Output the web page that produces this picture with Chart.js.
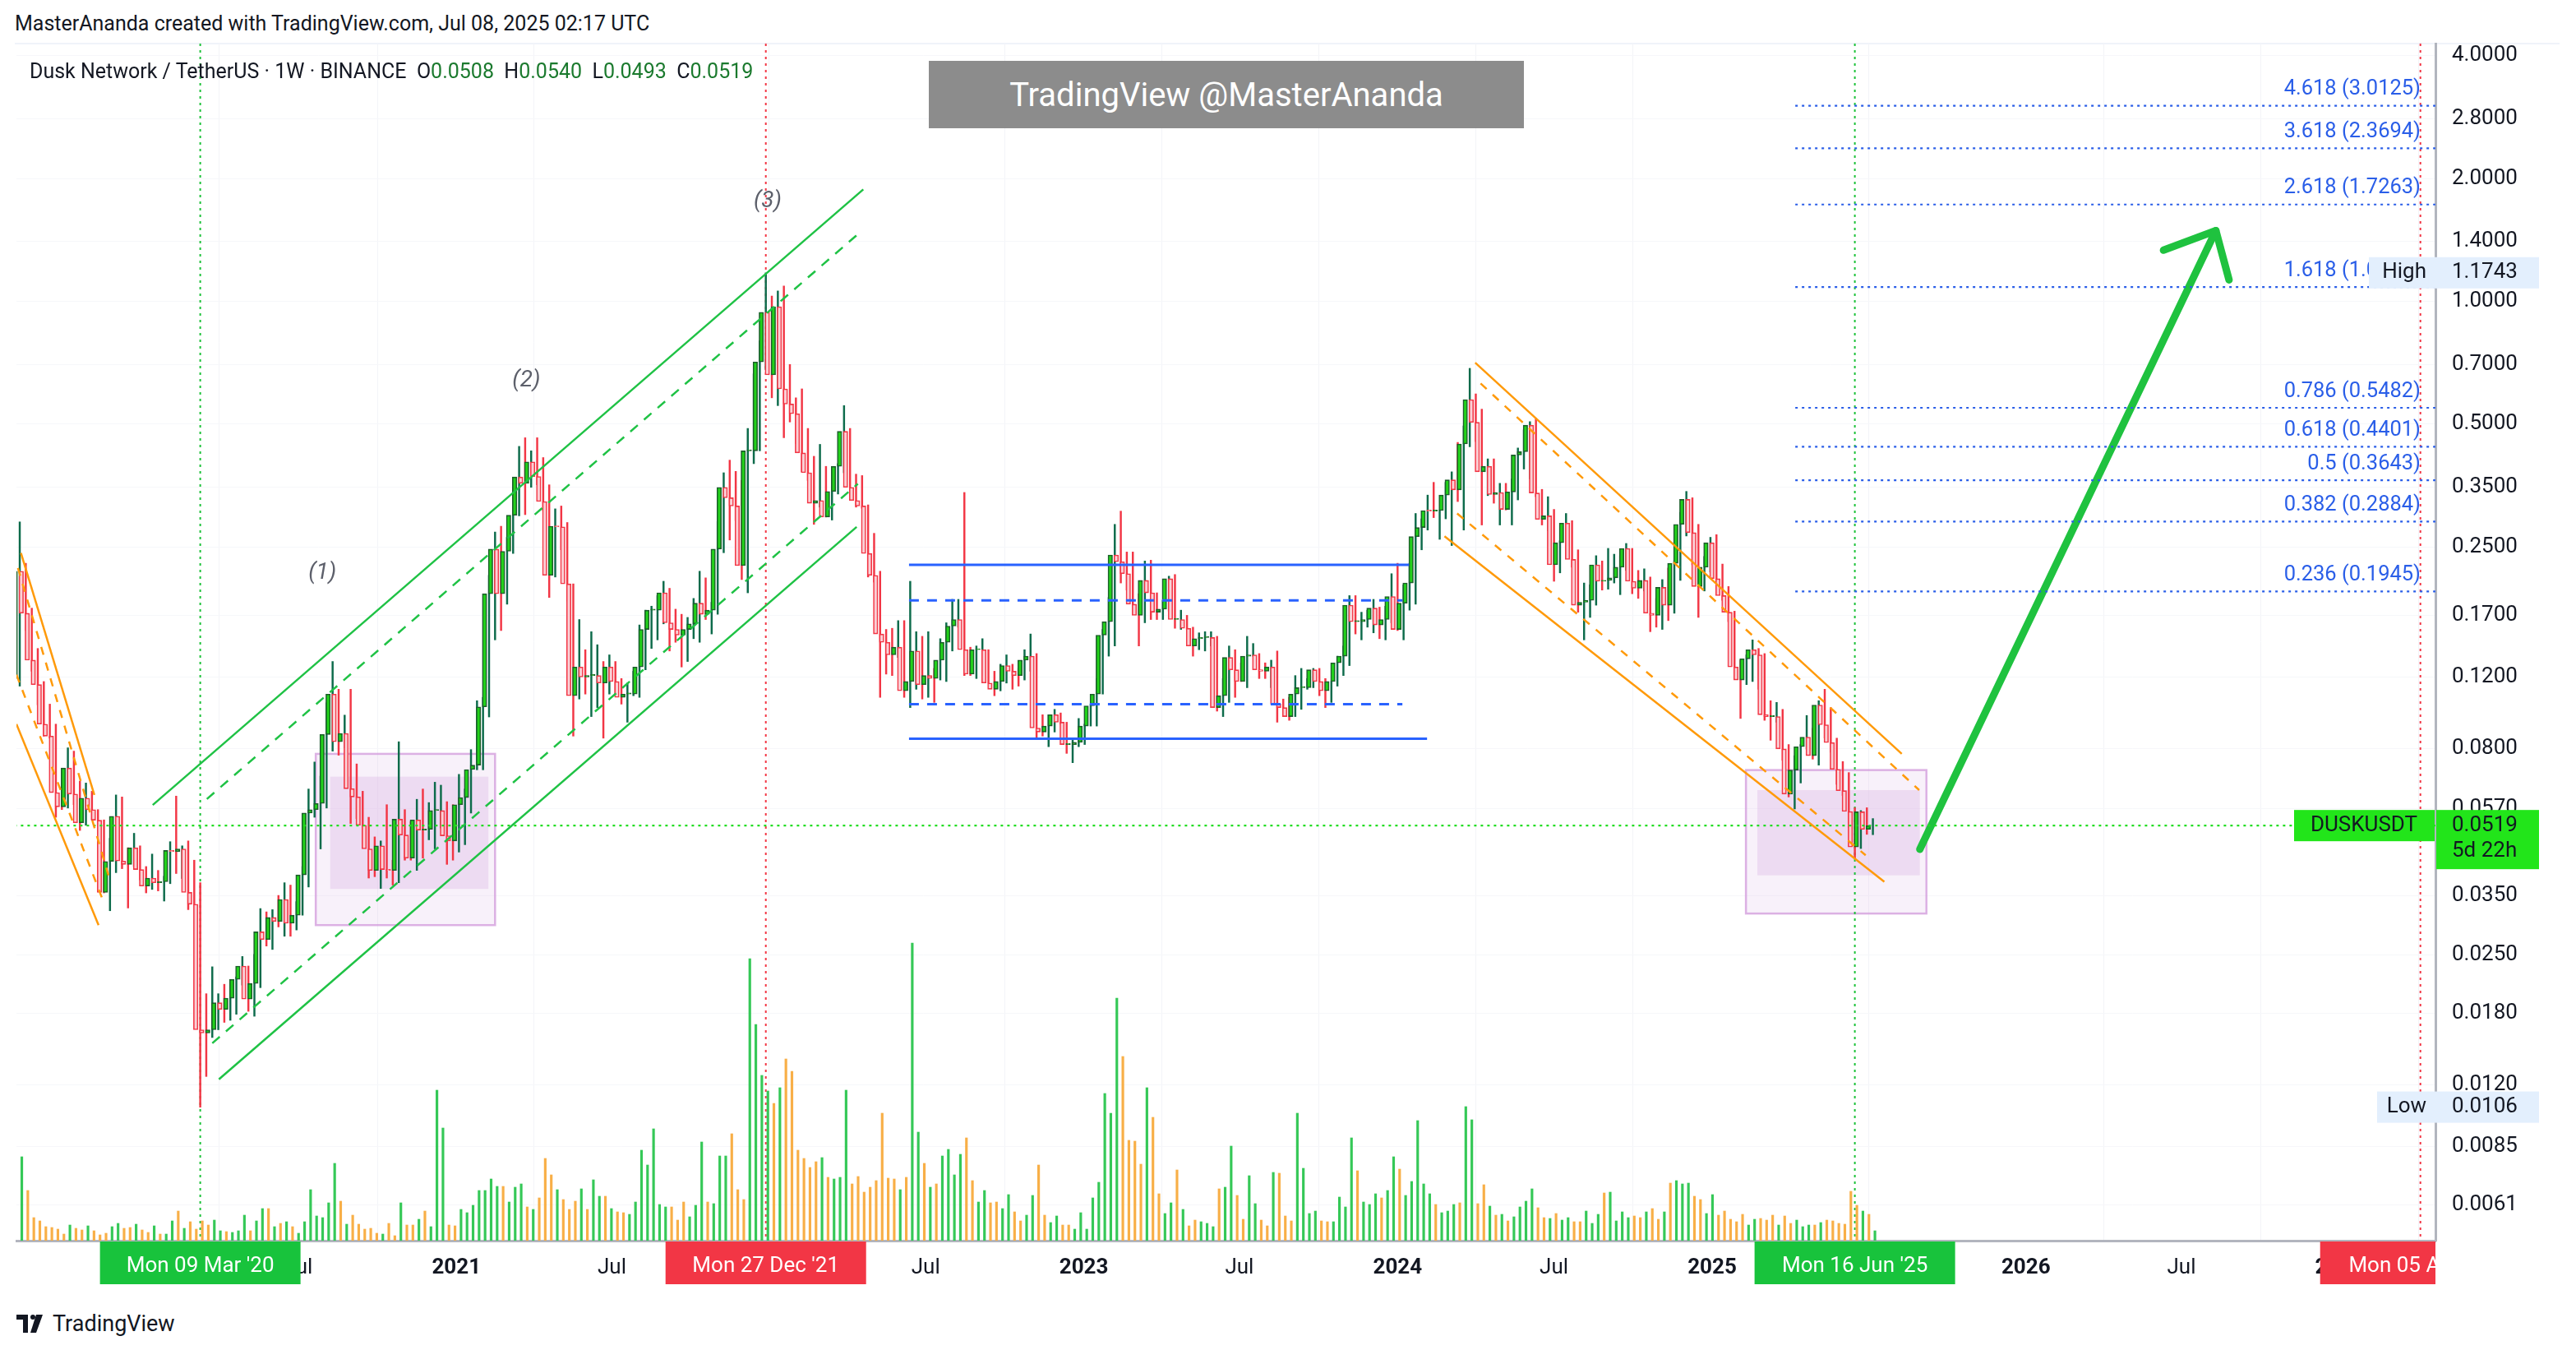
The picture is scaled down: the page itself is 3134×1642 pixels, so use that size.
<!DOCTYPE html>
<html><head><meta charset="utf-8">
<script src="https://cdn.jsdelivr.net/npm/chart.js@4.4.1/dist/chart.umd.min.js"></script>
<style>
html,body{margin:0;padding:0;background:#fff;width:3134px;height:1642px;overflow:hidden;font-family:Roboto,"Liberation Sans",sans-serif;}
#wrap{position:absolute;left:0;top:0;width:3114px;height:1562px;}
#hdr{position:absolute;left:18px;top:14px;font-size:25px;color:#131722;}
#sym{position:absolute;left:36px;top:72px;font-size:25px;color:#131722;z-index:3;}
#sym b{font-weight:normal;color:#1b7a2e;}
#wm{position:absolute;left:1130px;top:74px;width:724px;height:82px;background:#8c8c8c;color:#fff;font-size:40px;display:flex;align-items:center;justify-content:center;z-index:3;}
#foot{position:absolute;left:20px;top:1594px;font-size:27px;color:#131722;display:flex;align-items:center;gap:8px;}
#topline{position:absolute;left:18px;top:52px;width:3096px;height:2px;background:#f0f3fa;}
</style></head><body>
<div id="hdr">MasterAnanda created with TradingView.com, Jul 08, 2025 02:17 UTC</div>
<div id="topline"></div>
<div id="sym">Dusk Network / TetherUS · 1W · BINANCE &nbsp;O<b>0.0508</b> &nbsp;H<b>0.0540</b> &nbsp;L<b>0.0493</b> &nbsp;C<b>0.0519</b></div>
<div id="wm">TradingView @MasterAnanda</div>
<div id="foot"><svg width="36" height="22" viewBox="0 0 36 22"><rect x="0" y="0" width="14" height="6" fill="#131722"/><rect x="8" y="0" width="6" height="22" fill="#131722"/><circle cx="20" cy="3" r="3" fill="#131722"/><polygon points="24,0 32,0 24,22 17,22" fill="#131722"/></svg><span>TradingView</span></div>
<div id="wrap"><canvas id="c"></canvas></div>
<script>
const startDate = '2019-08-12';
const closes = [.218,.172,.132,.115,.092,.086,.0625,.0577,.0718,.062,.0527,.0606,.0568,.0535,.0356,.0424,.0547,.0425,.0417,.0458,.0405,.0369,.0386,.0376,.0378,.0451,.0448,.0455,.0356,.0333,
.0164,.0161,.0164,.0191,.0184,.0196,.0218,.0235,.0195,.0213,.0285,.0273,.0309,.0302,.0342,.0299,.0313,.0393,.0557,.0568,.0588,.0868,.109,.0833,.0873,.0639,.061,.052,.0455,.0403,
.0463,.0405,.0403,.0538,.0492,.0432,.0536,.0506,.0508,.0565,.0565,.049,.0476,.0584,.0608,.0712,.073,.1014,.192,.247,.192,.244,.299,.371,.358,.404,.372,.323,.213,.281,
.28,.203,.108,.127,.12,.121,.121,.116,.127,.117,.107,.109,.109,.127,.157,.175,.175,.193,.163,.157,.152,.157,.162,.182,.171,.175,.247,.35,.33,.315,
.225,.43,.43,.71,.94,.66,.97,.61,.56,.53,.425,.38,.32,.325,.296,.342,.394,.48,.35,.325,.315,.241,.213,.153,.146,.136,.142,.111,.117,.139,
.115,.121,.119,.132,.146,.16,.166,.14,.122,.14,.14,.116,.112,.117,.128,.124,.121,.132,.135,.09,.088,.091,.097,.093,.082,.082,.083,.091,.102,.109,
.152,.164,.239,.23,.215,.181,.17,.207,.193,.173,.176,.209,.166,.166,.158,.143,.149,.15,.15,.101,.108,.134,.125,.117,.135,.136,.125,.124,.127,.103,
.101,.096,.109,.113,.113,.125,.117,.111,.117,.13,.135,.18,.164,.164,.166,.177,.161,.166,.189,.157,.182,.204,.265,.279,.307,.306,.307,.335,.365,.345,
.447,.574,.505,.382,.394,.336,.34,.309,.341,.42,.428,.497,.339,.292,.298,.226,.256,.286,.233,.18,.183,.185,.226,.206,.207,.21,.223,.248,.206,.198,
.207,.172,.17,.199,.18,.228,.284,.327,.271,.20,.223,.256,.209,.19,.173,.127,.118,.133,.14,.136,.097,.096,.096,.080,.062,.071,.081,.0855,.077,.1025,
.0917,.0829,.0713,.0632,.0562,.046,.0561,.0508,.0519];
const firstOpen = 0.119;
const highs = [.288,.228,.177,.141,.117,.103,.092,.066,.0805,.079,.0667,.066,.063,.0568,.0536,.0483,.0617,.061,.0458,.0497,.0463,.0412,.0442,.0403,.039,.0474,.0613,.0463,.0476,.0427,
.0376,.0201,.0234,.0201,.0212,.0209,.0221,.0248,.0235,.0251,.0325,.0319,.0323,.035,.0376,.0371,.0338,.0412,.0638,.0743,.0686,.1038,.131,.112,.0968,.112,.0735,.063,.0544,.0487,
.0476,.0584,.0427,.0833,.0568,.0531,.0602,.0638,.0591,.0663,.0652,.0594,.0584,.0693,.0638,.0797,.105,.107,.213,.272,.281,.264,.347,.441,.463,.43,.463,.414,.355,.31,
.315,.287,.203,.166,.14,.155,.144,.131,.136,.131,.119,.116,.124,.161,.175,.179,.19,.206,.198,.176,.171,.168,.187,.218,.21,.183,.289,.38,.408,.383,
.364,.488,.664,.80,1.174,1.03,1.06,1.09,.70,.58,.61,.488,.417,.446,.394,.371,.40,.555,.488,.377,.374,.317,.27,.218,.157,.158,.165,.165,.206,.155,
.151,.155,.126,.149,.163,.186,.186,.34,.142,.143,.149,.139,.124,.129,.136,.129,.126,.14,.153,.137,.097,.097,.1,.098,.093,.084,.095,.092,.103,.119,
.157,.188,.284,.306,.243,.243,.192,.231,.232,.193,.185,.212,.214,.175,.17,.159,.154,.155,.155,.151,.119,.143,.14,.13,.151,.145,.137,.13,.132,.139,
.106,.107,.121,.126,.119,.126,.126,.119,.117,.135,.143,.19,.19,.173,.175,.186,.178,.179,.215,.228,.202,.228,.302,.293,.335,.36,.308,.36,.382,.451,
.495,.685,.593,.544,.411,.411,.358,.358,.367,.437,.484,.507,.517,.346,.332,.309,.259,.302,.29,.246,.204,.202,.238,.231,.248,.24,.238,.255,.248,.219,
.221,.211,.187,.208,.222,.231,.304,.342,.33,.284,.237,.264,.268,.227,.2,.174,.132,.136,.148,.141,.137,.105,.104,.1,.082,.077,.082,.0966,.0899,.105,
.112,.101,.085,.0745,.07,.0574,.0565,.0574,.054];
const lows = [.114,.156,.124,.1026,.086,.085,.0544,.0568,.0573,.0584,.0505,.052,.0536,.052,.0355,.0321,.0398,.0407,.0326,.0412,.0382,.0355,.0362,.0359,.0339,.0374,.0396,.0385,.0323,.0332,
.0106,.0126,.0157,.0165,.0171,.0173,.0179,.0211,.0182,.0177,.0208,.0263,.0258,.0293,.0278,.0278,.0288,.0313,.0367,.0544,.0455,.0573,.079,.0772,.0805,.0525,.054,.0497,.0386,.0389,
.0364,.0386,.0371,.0376,.0427,.0427,.0403,.0432,.0479,.0455,.0512,.0417,.0427,.0447,.0466,.0557,.0711,.0711,.0958,.148,.156,.181,.241,.298,.30,.35,.355,.307,.188,.211,
.246,.184,.086,.106,.109,.096,.101,.085,.109,.108,.103,.093,.108,.107,.125,.141,.148,.162,.139,.146,.127,.131,.149,.146,.166,.153,.171,.242,.26,.29,
.208,.193,.40,.43,.68,.58,.555,.463,.506,.448,.382,.364,.284,.313,.296,.291,.337,.38,.35,.313,.311,.211,.205,.107,.122,.121,.134,.107,.101,.112,
.106,.107,.104,.118,.117,.139,.159,.121,.121,.119,.129,.116,.108,.111,.116,.112,.114,.118,.124,.085,.086,.081,.088,.092,.078,.074,.081,.082,.091,.091,
.109,.135,.143,.204,.196,.182,.143,.163,.166,.166,.166,.174,.158,.157,.157,.135,.14,.139,.143,.099,.096,.104,.107,.117,.113,.135,.119,.119,.113,.093,
.097,.094,.096,.1,.112,.113,.108,.101,.104,.114,.121,.128,.153,.148,.159,.154,.149,.148,.163,.156,.148,.175,.181,.246,.275,.295,.261,.293,.252,.323,
.275,.44,.453,.283,.334,.32,.283,.308,.283,.326,.388,.367,.332,.283,.274,.206,.216,.259,.223,.173,.148,.168,.18,.196,.197,.204,.191,.219,.192,.187,
.195,.155,.159,.157,.165,.172,.207,.266,.226,.168,.195,.217,.206,.185,.164,.12,.095,.115,.117,.112,.094,.084,.093,.075,.061,.057,.066,.0799,.0755,.073,
.085,.0785,.0655,.0615,.0513,.0432,.0456,.0494,.0493];
const volumes = [102,61,28,24,17,16,14,8,19,15,13,18,12,7,9,17,21,15,16,20,13,10,18,8,8,24,36,15,23,14,
24,19,25,12,11,10,12,31,12,24,39,39,17,21,23,17,9,23,62,30,28,46,94,48,20,31,20,14,15,9,
8,21,6,46,19,19,26,36,17,183,137,19,18,38,34,43,61,61,75,66,66,47,65,69,41,38,52,100,80,62,
50,38,48,63,38,74,54,54,39,35,34,32,47,110,92,136,44,41,41,25,47,29,43,120,47,45,103,103,130,62,
50,343,263,201,182,167,186,221,206,110,100,89,96,101,77,75,77,183,69,78,59,65,73,155,76,75,62,77,362,132,
94,65,69,103,111,80,105,125,73,47,61,46,47,39,56,35,24,31,55,92,31,22,30,19,19,14,34,14,52,71,
179,155,295,224,122,121,93,186,150,57,33,46,86,38,18,25,23,21,17,63,65,115,55,26,79,45,25,18,83,82,
30,24,155,88,33,36,24,23,23,53,41,125,85,47,44,57,52,61,102,87,55,72,146,69,57,44,34,36,44,46,
163,147,45,68,42,31,32,24,29,41,48,63,40,28,27,33,25,28,23,23,36,21,32,58,59,24,35,28,30,28,
35,39,26,35,70,73,69,70,54,50,33,56,31,36,26,23,32,19,26,27,25,31,19,30,21,25,17,19,19,22,
25,24,21,20,60,43,36,32,12];
const yTickValues = [4,2.8,2,1.4,1,0.7,0.5,0.35,0.25,0.17,0.12,0.08,0.057,0.035,0.025,0.018,0.012,0.0085,0.0061];
const xTickLabels = ['Jul','2021','Jul','Jul','2023','Jul','2024','Jul','2025','2026','Jul','2027'];
const xTickDates = ['2020-07-01','2021-01-01','2021-07-01','2022-07-01','2023-01-01','2023-07-01','2024-01-01','2024-07-01','2025-01-01','2026-01-01','2026-07-01','2027-01-01'];
const markLabels = ["Mon 09 Mar '20","Mon 27 Dec '21","Mon 16 Jun '25","Mon 05 Apr '27"];
const markDates = ['2020-03-09','2021-12-27','2025-06-16','2027-04-05'];
const markColors = ['#18c33c','#f23645','#18c33c','#f23645'];
const fibLevels = ['4.618','3.618','2.618','1.618','0.786','0.618','0.5','0.382','0.236'];
const fibPrices = [3.0125,2.3694,1.7263,1.0832,0.5482,0.4401,0.3643,0.2884,0.1945];
const waveLabels = ['(1)','(2)','(3)'];
const waveX = [50.3,84.2,124.3];
const waveY = [0.216,0.64,1.76];
const lastPrice = 0.0519, allHigh = 1.1743, allLow = 0.0106;

const DAY = 86400000;
const idxOf = d => (Date.parse(d) - Date.parse(startDate)) / (7*DAY);
const opens = closes.map((c,i)=> i===0 ? firstOpen : closes[i-1]);
const up = closes.map((c,i)=> c >= opens[i]);
const bodies = closes.map((c,i)=>{const lo=Math.min(c,opens[i]),hi=Math.max(c,opens[i]);return {x:i,y:[lo,Math.max(hi,lo*1.006)]};});
const wicks = closes.map((c,i)=>({x:i,y:[Math.min(lows[i],c,opens[i]),Math.max(highs[i],c,opens[i])]}));
const vols = volumes.map((v,i)=>({x:i,y:v}));
const seg = (a,b,c,d)=>[{x:a,y:b},{x:c,y:d}];
const lineDs = (data,color,dash,w)=>({type:'line',data,borderColor:color,borderWidth:w||2.5,borderDash:dash||[],pointRadius:0,fill:false,yAxisID:'y',order:0});

const GREEN='#1fc245', ORANGE='#ff9a0a', BLUE='#2962ff', FIB='#2a5ee8';
const datasets = [
 {type:'bar',data:vols,yAxisID:'v',backgroundColor:up.map(u=>u?'rgba(31,194,69,0.9)':'rgba(247,166,51,0.9)'),barThickness:2.5,order:5},
 {type:'bar',data:wicks,yAxisID:'y',backgroundColor:up.map(u=>u?'#0d6b4b':'#f23645'),barThickness:1.8,order:3},
 {type:'bar',data:bodies,yAxisID:'y',backgroundColor:up.map(u=>u?'#22d21a':'#fbd0d6'),borderColor:up.map(u=>u?'#1b5e2a':'#f23645'),borderWidth:1.6,borderSkipped:false,barThickness:5.5,order:2},
 lineDs(seg(22.1,0.0583,140.2,1.88),GREEN),
 lineDs(seg(31.1,0.0603,139.3,1.46),GREEN,[12,10]),
 lineDs(seg(32,0.0152,139.3,0.357),GREEN,[12,10]),
 lineDs(seg(33.1,0.0124,139.1,0.28),GREEN),
 lineDs(seg(0.2,0.2415,12.4,0.0617),ORANGE),
 lineDs(seg(-0.3,0.222,14.75,0.0392),ORANGE,[10,10]),
 lineDs(seg(-0.55,0.1216,13.9,0.0338),ORANGE,[10,10]),
 lineDs(seg(-0.55,0.092,13.1,0.0296),ORANGE),
 lineDs(seg(241.9,0.707,312.8,0.0778),ORANGE),
 lineDs(seg(242.8,0.629,315.7,0.0634),ORANGE,[10,10]),
 lineDs(seg(238.9,0.302,306.8,0.0439),ORANGE,[10,10]),
 lineDs(seg(236.8,0.2656,309.9,0.0378),ORANGE),
 lineDs(seg(147.8,0.226,230.9,0.226),BLUE,[],3),
 lineDs(seg(147.8,0.185,229.8,0.185),BLUE,[12,10],3),
 lineDs(seg(147.8,0.103,229.8,0.103),BLUE,[12,10],3),
 lineDs(seg(147.8,0.0847,233.9,0.0847),BLUE,[],3),
 lineDs(seg(-2,lastPrice,405,lastPrice),'#22dd22',[3,5],2.2),
 ...fibPrices.map(p=>lineDs(seg(295.1,p,405,p),FIB,[3,5],2.2)),
 Object.assign(lineDs(seg(315.8,0.0454,365,1.49),'#1fc23f',[],9),{borderCapStyle:'round'}),
 Object.assign(lineDs([{x:356.3,y:1.334},{x:365,y:1.49},{x:367.2,y:1.128}],'#1fc23f',[],9),{borderCapStyle:'round',borderJoinStyle:'round'})
];

const boxes = [
 {x0:49.2,x1:79,p0:0.0778,p1:0.0296,fill:'rgba(225,190,231,0.22)',stroke:'rgba(206,147,216,0.7)'},
 {x0:51.6,x1:77.9,p0:0.0684,p1:0.0363,fill:'rgba(225,190,231,0.45)'},
 {x0:286.9,x1:316.9,p0:0.071,p1:0.0316,fill:'rgba(225,190,231,0.22)',stroke:'rgba(206,147,216,0.7)'},
 {x0:288.8,x1:315.8,p0:0.0634,p1:0.0392,fill:'rgba(225,190,231,0.45)'}
];

const deco = {
 id:'deco',
 beforeDatasetsDraw(ch){
  const {ctx,chartArea:a,scales:{x,y}}=ch;
  ctx.save();
  ctx.beginPath();ctx.rect(a.left,a.top,a.right-a.left,a.bottom-a.top);ctx.clip();
  boxes.forEach(b=>{const X0=x.getPixelForValue(b.x0),X1=x.getPixelForValue(b.x1),Y0=y.getPixelForValue(b.p0),Y1=y.getPixelForValue(b.p1);
   ctx.fillStyle=b.fill;ctx.fillRect(X0,Y0,X1-X0,Y1-Y0);if(b.stroke){ctx.strokeStyle=b.stroke;ctx.lineWidth=2.5;ctx.strokeRect(X0,Y0,X1-X0,Y1-Y0);}});
  markDates.forEach((d,k)=>{const X=x.getPixelForValue(idxOf(d));ctx.strokeStyle=markColors[k]==='#f23645'?'#f23645':'#1ec23a';ctx.lineWidth=2;ctx.setLineDash([3,5]);
   ctx.beginPath();ctx.moveTo(X,a.top);ctx.lineTo(X,a.bottom);ctx.stroke();});
  ctx.setLineDash([]);
  ctx.restore();
 },
 afterDraw(ch){
  const {ctx,chartArea:a,scales:{x,y}}=ch;
  ctx.save();
  ctx.font='italic 28px Roboto, "Liberation Sans", sans-serif';ctx.fillStyle='#5d606b';ctx.textAlign='center';ctx.textBaseline='middle';
  waveLabels.forEach((t,k)=>ctx.fillText(t,x.getPixelForValue(waveX[k]),y.getPixelForValue(waveY[k])));
  ctx.font='25.5px Roboto, "Liberation Sans", sans-serif';ctx.fillStyle=FIB;ctx.textAlign='right';ctx.textBaseline='bottom';
  fibLevels.forEach((l,k)=>ctx.fillText(`${l} (${fibPrices[k].toFixed(4)})`,2945,y.getPixelForValue(fibPrices[k])-7));
  const tagFont='26px Roboto, "Liberation Sans", sans-serif';
  [[allHigh,'High'],[allLow,'Low']].forEach(([v,t])=>{const Y=y.getPixelForValue(v);
   const x0=t==='High'?2882:2892;
   ctx.fillStyle='#e3effd';ctx.fillRect(x0,Y-19,3089-x0,38);
   ctx.fillStyle='#131722';ctx.font=tagFont;ctx.textBaseline='middle';ctx.textAlign='right';ctx.fillText(t,2952,Y);
   ctx.textAlign='left';ctx.fillText(v.toFixed(4),2983,Y);});
  const Yp=y.getPixelForValue(lastPrice);
  ctx.fillStyle='#22e51a';ctx.fillRect(2791,Yp-19,171,38);ctx.fillRect(2964,Yp-19,125,72);
  ctx.fillStyle='#131722';ctx.font=tagFont;ctx.textAlign='center';ctx.textBaseline='middle';ctx.fillText('DUSKUSDT',2876,Yp);
  ctx.textAlign='left';ctx.fillText(lastPrice.toFixed(4),2983,Yp);ctx.fillText('5d 22h',2983,Yp+31);
  ctx.beginPath();ctx.rect(0,a.bottom,a.right,60);ctx.clip();
  markDates.forEach((d,k)=>{const X=x.getPixelForValue(idxOf(d));ctx.fillStyle=markColors[k];ctx.fillRect(X-122,a.bottom+1,244,52);
   ctx.fillStyle='#fff';ctx.font=tagFont;ctx.textAlign='center';ctx.textBaseline='middle';ctx.fillText(markLabels[k],X,a.bottom+31);});
  ctx.restore();
 }
};

new Chart(document.getElementById('c'),{
 type:'bar',
 data:{datasets},
 options:{
  responsive:true,maintainAspectRatio:false,animation:false,devicePixelRatio:1,
  layout:{padding:{top:53,left:20,right:0,bottom:0}},
  plugins:{legend:{display:false},tooltip:{enabled:false}},
  scales:{
   x:{type:'linear',offset:false,min:-0.55,max:401.5,
     afterBuildTicks(s){s.ticks=xTickDates.map(d=>({value:idxOf(d)}));},
     afterFit(s){s.height=53;},
     ticks:{autoSkip:false,maxRotation:0,padding:18,color:'#131722',
       callback:(v,i)=>xTickLabels[i],
       font:(c)=>({family:'Roboto, "Liberation Sans", sans-serif',size:26,weight:(/^\d/.test(xTickLabels[c.index]||''))?'bold':'normal'})},
     grid:{color:'#f3f4f8',drawTicks:false},border:{color:'#b2b5be',width:3}},
   y:{type:'logarithmic',position:'right',min:0.00499,max:4.28,
     afterBuildTicks(s){s.ticks=yTickValues.map(v=>({value:v}));},
     afterFit(s){s.width=151;},
     ticks:{autoSkip:false,padding:20,color:'#131722',callback:v=>Number(v).toFixed(4),font:{family:'Roboto, "Liberation Sans", sans-serif',size:26}},
     grid:{color:'#f6f7fa',drawTicks:false},border:{color:'#b2b5be',width:3}},
   v:{type:'linear',display:false,min:0,max:1456}
  }
 },
 plugins:[deco]
});
</script></body></html>
